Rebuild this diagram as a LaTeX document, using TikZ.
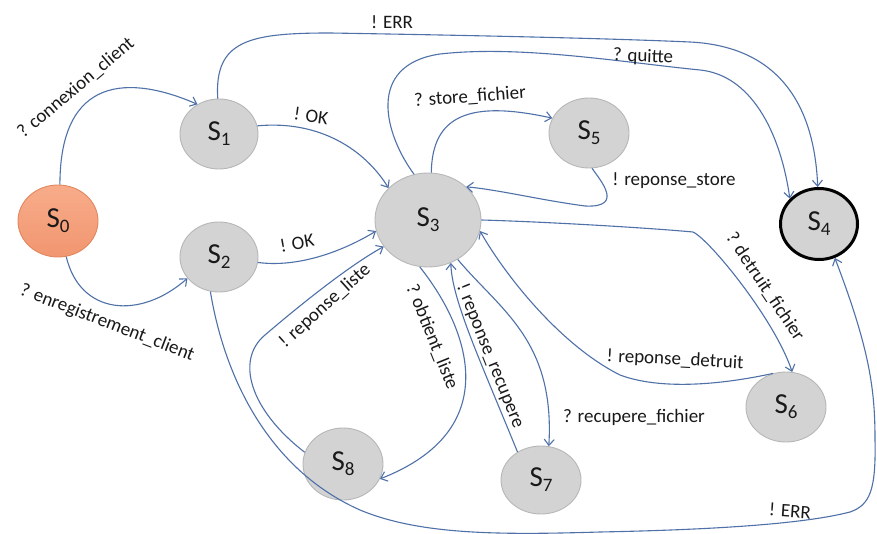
\documentclass[tikz,border=0pt]{standalone}
\usepackage{fontspec}
\setmainfont{Carlito}
\usetikzlibrary{arrows.meta,shapes.geometric}
\definecolor{edgeblue}{RGB}{79,113,168}
\definecolor{stategray}{RGB}{211,211,211}
\definecolor{stateborder}{RGB}{183,183,183}
\definecolor{orangetop}{RGB}{248,172,138}
\definecolor{orangebot}{RGB}{241,150,112}
\definecolor{orangeborder}{RGB}{226,136,96}
\definecolor{labelcol}{RGB}{25,25,25}
\newcommand{\sname}[1]{{\fontsize{29}{29}\selectfont S}\raisebox{-5pt}{\fontsize{19}{19}\selectfont #1}}
\begin{document}
\begin{tikzpicture}[x=1pt,y=-1pt,
  state/.style={ellipse, inner sep=0pt, draw=stateborder, fill=stategray, line width=0.9pt, text=labelcol},
  trans/.style={draw=edgeblue, line width=1.1pt, -{Straight Barb[length=6pt,width=10pt]}},
  lbl/.style={font=\fontsize{19}{19}\selectfont, inner sep=0pt, text=labelcol}]
\fill[white] (0,0) rectangle (877,534);
\useasboundingbox (0,0) rectangle (877,534);

% states
\node[state, minimum width=80pt, minimum height=72pt, draw=orangeborder, top color=orangetop, bottom color=orangebot] (S0) at (58,221) {\sname{0}};
\node[state, minimum width=78pt, minimum height=70pt] (S1) at (219,134) {\sname{1}};
\node[state, minimum width=78pt, minimum height=70pt] (S2) at (219,257) {\sname{2}};
\node[state, minimum width=106pt, minimum height=94pt] (S3) at (428,220) {\sname{3}};
\node[state, minimum width=77pt, minimum height=71pt, draw=black, line width=3pt] (S4) at (819,224) {\sname{4}};
\node[state, minimum width=80pt, minimum height=70pt] (S5) at (589,133) {\sname{5}};
\node[state, minimum width=80pt, minimum height=70pt] (S6) at (786,407) {\sname{6}};
\node[state, minimum width=80pt, minimum height=68pt] (S7) at (541,480) {\sname{7}};
\node[state, minimum width=80pt, minimum height=72pt] (S8) at (343,464) {\sname{8}};

% transitions
\draw[trans] (S0.87) .. controls (60,75) and (130,75) .. (S1.126);
\draw[trans] (S0.283) .. controls (80,315) and (140,320) .. (S2.214);
\draw[trans] (S1.12) .. controls (320,120) and (365,150) .. (S3.141);
\draw[trans] (S2.352) .. controls (300,268) and (345,250) .. (S3.192);
\draw[trans] (S1.92) .. controls (214,40) and (250,33) .. (330,33)
   .. controls (450,35) and (600,38) .. (690,42)
   .. controls (790,47) and (815,120) .. (S4.92);
\draw[trans] (S3.107) .. controls (385,135) and (365,65) .. (440,54)
   .. controls (520,45) and (620,62) .. (700,70)
   .. controls (750,75) and (780,130) .. (S4.139);
\draw[trans] (S3.86) .. controls (432,115) and (470,100) .. (S5.158);
\draw[trans] (S5.275) .. controls (600,180) and (625,208) .. (585,206)
   .. controls (540,200) and (500,190) .. (S3.41);
\draw[trans] (S3.0) .. controls (550,222) and (650,228) .. (693,232)
   .. controls (710,240) and (775,320) .. (S6.80);
\draw[trans] (S6.111) .. controls (720,385) and (660,390) .. (620,375)
   .. controls (560,345) and (505,275) .. (S3.348);
\draw[trans] (S3.307) .. controls (500,310) and (555,340) .. (S7.77);
\draw[trans] (S7.130) .. controls (480,360) and (452,300) .. (S3.298);
\draw[trans] (S3.260) .. controls (470,330) and (505,430) .. (S8.338);
\draw[trans] (S8.163) .. controls (250,410) and (235,360) .. (265,335)
   .. controls (300,305) and (350,265) .. (S3.211);
\draw[trans] (S2.256) .. controls (225,380) and (270,470) .. (360,510)
   .. controls (420,535) and (500,535) .. (600,532)
   .. controls (700,530) and (800,525) .. (850,512)
   .. controls (870,505) and (876,490) .. (875,440)
   .. controls (875,390) and (870,350) .. (S4.295);

% labels
\node[lbl, rotate=40] (l01) at (76,88) {? connexion\_client};
\node[lbl, rotate=-21] (l02) at (107,323) {? enregistrement\_client};
\node[lbl, rotate=-8] (l13) at (311,116) {! OK};
\node[lbl, rotate=10] (l23) at (297,243) {! OK};
\node[lbl] (l14) at (392,22) {! ERR};
\node[lbl, rotate=-2] (l34) at (643,57) {? quitte};
\node[lbl, rotate=4] (l35) at (470,97) {? store\_fichier};
\node[lbl] (l53) at (674,181) {! reponse\_store};
\node[lbl, rotate=-56] (l36) at (765,287) {? detruit\_fichier};
\node[lbl, rotate=-3] (l63) at (675,360) {! reponse\_detruit};
\node[lbl] (l37) at (634,417) {? recupere\_fichier};
\node[lbl, rotate=-68] (l73) at (490,356) {! reponse\_recupere};
\node[lbl, rotate=-68] (l38) at (432,337) {? obtient\_liste};
\node[lbl, rotate=42] (l83) at (325,306) {! reponse\_liste};
\node[lbl, rotate=-4] (l24) at (790,511) {! ERR};
\end{tikzpicture}
\end{document}
